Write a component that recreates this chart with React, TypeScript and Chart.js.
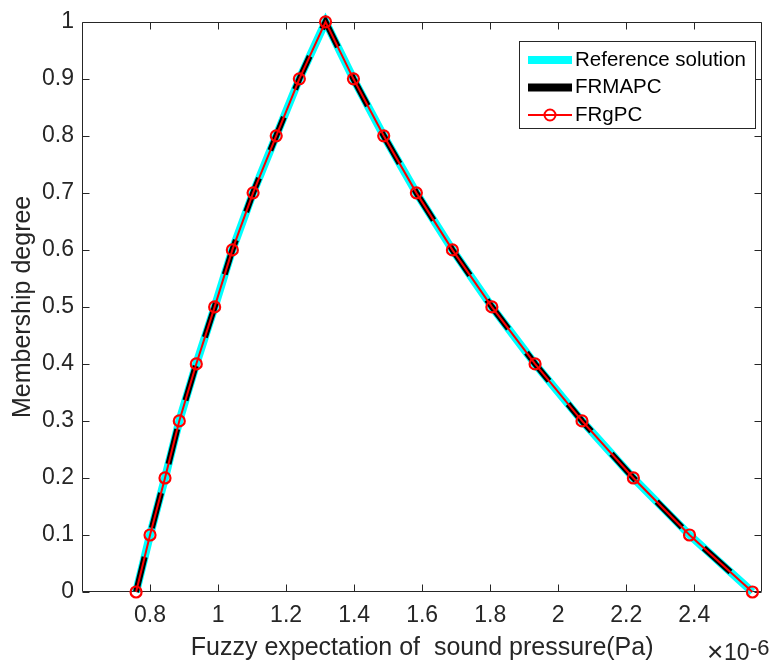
import React, { useEffect, useRef } from "react";
import { Chart, registerables } from "chart.js";

Chart.register(...registerables);

// ---- data (x in units of 1e-6 Pa) ----
const membershipUp = [0, 0.1, 0.2, 0.3, 0.4, 0.5, 0.6, 0.7, 0.8, 0.9, 1.0];
const xUp = [0.759, 0.8, 0.844, 0.886, 0.936, 0.99, 1.042, 1.103, 1.171, 1.239, 1.316];
const membershipDown = [0.9, 0.8, 0.7, 0.6, 0.5, 0.4, 0.3, 0.2, 0.1, 0];
const xDown = [1.398, 1.487, 1.583, 1.689, 1.805, 1.932, 2.07, 2.221, 2.386, 2.571];

const seriesNames = ["Reference solution", "FRMAPC", "FRgPC"];
const xTickValues = [0.8, 1.0, 1.2, 1.4, 1.6, 1.8, 2.0, 2.2, 2.4];
const yTickValues = [0, 0.1, 0.2, 0.3, 0.4, 0.5, 0.6, 0.7, 0.8, 0.9, 1.0];
const xTitle = "Fuzzy expectation of  sound pressure(Pa)";
const yTitle = "Membership degree";
const exponentTimes = "\u00d7";
const exponentBase = "10";
const exponentPower = "-6";

const FONT = "'Liberation Sans', Arial, Helvetica, sans-serif";
const AXIS = "#262626";
const COLORS = ["#00ffff", "#000000", "#ff0000"];

function buildPoints() {
  const pts: { x: number; y: number }[] = [];
  xUp.forEach((x, i) => pts.push({ x, y: membershipUp[i] }));
  xDown.forEach((x, i) => pts.push({ x, y: membershipDown[i] }));
  return pts;
}

const fmt = (v: number) => String(Number(Number(v).toFixed(1)));

const framePlugin = {
  id: "frame",
  beforeDatasetsDraw(chart: any) {
    const { ctx, chartArea: a, scales } = chart;
    ctx.save();
    ctx.strokeStyle = AXIS;
    ctx.lineWidth = 1;
    const L = Math.round(a.left) + 0.5;
    const R = Math.round(a.right) - 0.5;
    const T = Math.round(a.top) + 0.5;
    const B = Math.round(a.bottom) - 0.5;
    ctx.beginPath();
    ctx.rect(L, T, R - L, B - T);
    const tl = 7;
    xTickValues.forEach((v) => {
      const px = Math.round(scales.x.getPixelForValue(v)) + 0.5;
      ctx.moveTo(px, B);
      ctx.lineTo(px, B - tl);
      ctx.moveTo(px, T);
      ctx.lineTo(px, T + tl);
    });
    yTickValues.forEach((v) => {
      const py = Math.round(scales.y.getPixelForValue(v)) + 0.5;
      ctx.moveTo(L, py);
      ctx.lineTo(L + tl, py);
      ctx.moveTo(R, py);
      ctx.lineTo(R - tl, py);
    });
    ctx.stroke();
    ctx.restore();
  },
};

const legendPlugin = {
  id: "matlabLegend",
  afterDraw(chart: any) {
    const { ctx } = chart;
    ctx.save();
    const bx = 519.5, by = 41.5, bw = 236, bh = 87;
    ctx.fillStyle = "#ffffff";
    ctx.fillRect(bx, by, bw, bh);
    ctx.strokeStyle = AXIS;
    ctx.lineWidth = 1;
    ctx.strokeRect(bx, by, bw, bh);
    const rows = [60, 87.5, 115];
    const widths = [8, 8, 2];
    chart.data.datasets.forEach((ds: any, i: number) => {
      const y = rows[i];
      ctx.beginPath();
      ctx.strokeStyle = ds.borderColor;
      ctx.lineWidth = widths[i];
      ctx.setLineDash([]);
      ctx.moveTo(528, y);
      ctx.lineTo(572, y);
      ctx.stroke();
      if (ds.pointRadius > 0) {
        ctx.beginPath();
        ctx.lineWidth = 2;
        ctx.arc(550, y, ds.pointRadius, 0, Math.PI * 2);
        ctx.stroke();
      }
      ctx.fillStyle = "#000000";
      ctx.font = `20.5px ${FONT}`;
      ctx.textAlign = "left";
      ctx.textBaseline = "middle";
      ctx.fillText(ds.label, 575, y);
    });
    // exponent label
    ctx.fillStyle = AXIS;
    ctx.textBaseline = "alphabetic";
    ctx.textAlign = "left";
    ctx.font = `28px ${FONT}`;
    ctx.fillText(exponentTimes, 707, 661);
    ctx.font = `23px ${FONT}`;
    ctx.fillText(exponentBase, 724, 660);
    ctx.font = `22px ${FONT}`;
    ctx.fillText(exponentPower, 750, 655);
    ctx.restore();
  },
};

export default function App() {
  const ref = useRef<HTMLCanvasElement>(null);
  useEffect(() => {
    const canvas = ref.current;
    if (!canvas) return;
    const pts = buildPoints();
    const chart = new Chart(canvas, {
      type: "scatter",
      data: {
        datasets: [
          {
            label: seriesNames[0],
            data: pts,
            showLine: true,
            borderColor: COLORS[0],
            backgroundColor: COLORS[0],
            borderWidth: 8,
            pointRadius: 0,
            order: 2,
            clip: false,
          } as any,
          {
            label: seriesNames[1],
            data: pts,
            showLine: true,
            borderColor: COLORS[1],
            backgroundColor: COLORS[1],
            borderWidth: 6,
            borderDash: [36, 30],
            pointRadius: 0,
            order: 1,
            clip: false,
          } as any,
          {
            label: seriesNames[2],
            data: pts,
            showLine: true,
            borderColor: COLORS[2],
            backgroundColor: "rgba(0,0,0,0)",
            borderWidth: 2,
            pointRadius: 5.5,
            pointBorderWidth: 2.2,
            pointBorderColor: COLORS[2],
            pointBackgroundColor: "rgba(0,0,0,0)",
            order: 0,
            clip: false,
          } as any,
        ],
      },
      options: {
        responsive: false,
        animation: false,
        devicePixelRatio: 1,
        layout: { padding: { top: 14, right: 5, left: 0, bottom: 0 } },
        plugins: {
          legend: { display: false },
          tooltip: { enabled: false },
        },
        scales: {
          x: {
            type: "linear",
            min: 0.6,
            max: 2.6,
            afterBuildTicks: (s: any) => {
              s.ticks = xTickValues.map((v) => ({ value: v }));
            },
            afterFit: (s: any) => {
              s.height = 77;
            },
            grid: { display: false, drawTicks: false },
            border: { display: false },
            ticks: {
              padding: 10,
              color: AXIS,
              maxRotation: 0,
              autoSkip: false,
              font: { family: FONT, size: 23 },
              callback: (v: any) => fmt(v),
            },
            title: {
              display: true,
              text: xTitle,
              color: AXIS,
              font: { family: FONT, size: 25 },
              padding: { top: 0, bottom: 6 },
            },
          },
          y: {
            type: "linear",
            min: 0,
            max: 1,
            afterBuildTicks: (s: any) => {
              s.ticks = yTickValues.map((v) => ({ value: v }));
            },
            afterFit: (s: any) => {
              s.width = 82;
            },
            grid: { display: false, drawTicks: false },
            border: { display: false },
            ticks: {
              padding: 8,
              color: AXIS,
              autoSkip: false,
              font: { family: FONT, size: 23 },
              callback: (v: any) => fmt(v),
            },
            title: {
              display: true,
              text: yTitle,
              color: AXIS,
              font: { family: FONT, size: 25 },
              padding: { top: 8, bottom: 0 },
            },
          },
        },
      } as any,
      plugins: [framePlugin, legendPlugin],
    });
    return () => chart.destroy();
  }, []);
  return (
    <div
      style={{
        position: "fixed",
        left: 0,
        top: 0,
        width: 770,
        height: 669,
        background: "#ffffff",
      }}
    >
      <canvas ref={ref} width={770} height={669} style={{ display: "block" }} />
    </div>
  );
}
